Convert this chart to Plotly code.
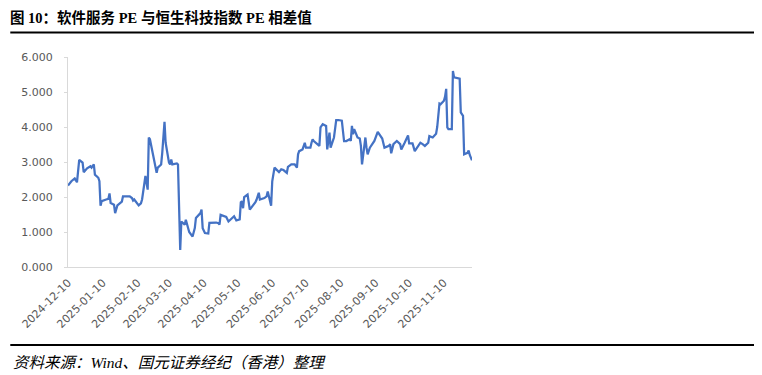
import plotly.graph_objects as go

dates = [
    "2024-12-10", "2024-12-13", "2024-12-16", "2024-12-18", "2024-12-20", "2024-12-23",
    "2024-12-24", "2024-12-27", "2024-12-30", "2024-12-31", "2025-01-02", "2025-01-03",
    "2025-01-06", "2025-01-07", "2025-01-08", "2025-01-09", "2025-01-13", "2025-01-15",
    "2025-01-16", "2025-01-17", "2025-01-20", "2025-01-21", "2025-01-23", "2025-01-27",
    "2025-01-28", "2025-02-03", "2025-02-05", "2025-02-06", "2025-02-07", "2025-02-11",
    "2025-02-13", "2025-02-14", "2025-02-17", "2025-02-18", "2025-02-19", "2025-02-20",
    "2025-02-21", "2025-02-24", "2025-02-27", "2025-02-28", "2025-03-03", "2025-03-04",
    "2025-03-06", "2025-03-07", "2025-03-10", "2025-03-11", "2025-03-12", "2025-03-13",
    "2025-03-17", "2025-03-18", "2025-03-20", "2025-03-21", "2025-03-24", "2025-03-25",
    "2025-03-27", "2025-03-28", "2025-03-31", "2025-04-02", "2025-04-03", "2025-04-07",
    "2025-04-08", "2025-04-09", "2025-04-11", "2025-04-14", "2025-04-15", "2025-04-21",
    "2025-04-23", "2025-04-24", "2025-04-25", "2025-04-28", "2025-04-30", "2025-05-02",
    "2025-05-05", "2025-05-07", "2025-05-09", "2025-05-12", "2025-05-13", "2025-05-14",
    "2025-05-15", "2025-05-16", "2025-05-19", "2025-05-21", "2025-05-26", "2025-05-27",
    "2025-05-29", "2025-05-30", "2025-06-03", "2025-06-05", "2025-06-06", "2025-06-09",
    "2025-06-10", "2025-06-12", "2025-06-16", "2025-06-18", "2025-06-20", "2025-06-23",
    "2025-06-24", "2025-06-27", "2025-06-30", "2025-07-02", "2025-07-03", "2025-07-04",
    "2025-07-07", "2025-07-09", "2025-07-10", "2025-07-14", "2025-07-15", "2025-07-16",
    "2025-07-17", "2025-07-21", "2025-07-22", "2025-07-23", "2025-07-25", "2025-07-28",
    "2025-07-29", "2025-07-31", "2025-08-01", "2025-08-04", "2025-08-06", "2025-08-08",
    "2025-08-11", "2025-08-13", "2025-08-15", "2025-08-18", "2025-08-19", "2025-08-20",
    "2025-08-21", "2025-08-22", "2025-08-25", "2025-08-27", "2025-08-28", "2025-08-29",
    "2025-09-01", "2025-09-02", "2025-09-03", "2025-09-05", "2025-09-08", "2025-09-09",
    "2025-09-12", "2025-09-15", "2025-09-16", "2025-09-18", "2025-09-22", "2025-09-23",
    "2025-09-24", "2025-09-26", "2025-09-29", "2025-10-02", "2025-10-03", "2025-10-06",
    "2025-10-08", "2025-10-09", "2025-10-10", "2025-10-13", "2025-10-15", "2025-10-17",
    "2025-10-20", "2025-10-22", "2025-10-24", "2025-10-27", "2025-10-28", "2025-10-31",
    "2025-11-03", "2025-11-04", "2025-11-06", "2025-11-07", "2025-11-10", "2025-11-11",
    "2025-11-12", "2025-11-13", "2025-11-14", "2025-11-17", "2025-11-18", "2025-11-19",
    "2025-11-21", "2025-11-24", "2025-11-25", "2025-11-27", "2025-11-28", "2025-12-01",
    "2025-12-02", "2025-12-03", "2025-12-05",
]

pe_diff = [
    2.33, 2.45, 2.53, 2.42, 3.06, 2.98,
    2.71, 2.82, 2.88, 2.84, 2.93, 2.64,
    2.55, 2.45, 1.75, 1.88, 1.93, 1.95,
    2.10, 1.83, 1.78, 1.54, 1.76, 1.87,
    2.02, 2.02, 1.97, 1.90, 1.93, 1.76,
    1.82, 1.93, 2.60, 2.45, 2.21, 3.70,
    3.65, 3.17, 2.69, 2.84, 2.93, 3.27,
    4.15, 3.55, 2.98, 2.93, 3.07, 2.93,
    2.96, 2.93, 0.49, 1.30, 1.21, 1.35,
    1.11, 1.00, 0.87, 1.11, 1.40, 1.54,
    1.64, 1.11, 0.97, 0.96, 1.26, 1.27,
    1.25, 1.21, 1.49, 1.46, 1.43, 1.30,
    1.40, 1.45, 1.33, 1.36, 1.85, 1.88,
    1.68, 2.00, 2.07, 1.64, 1.85, 1.92,
    2.12, 1.93, 1.97, 2.02, 2.16, 1.75,
    2.45, 2.84, 2.71, 2.79, 2.77, 2.69,
    2.86, 2.93, 2.93, 2.84, 3.22, 3.31,
    3.36, 3.55, 3.41, 3.41, 3.55, 3.65,
    3.60, 3.50, 3.46, 3.99, 4.08, 4.03,
    3.36, 3.84, 3.41, 3.70, 4.20, 4.20,
    4.18, 3.60, 3.60, 3.65, 3.60, 4.03,
    3.79, 3.94, 3.70, 3.67, 3.46, 2.93,
    3.70, 3.41, 3.22, 3.41, 3.55, 3.60,
    3.86, 3.70, 3.67, 3.41, 3.46, 3.51,
    3.25, 3.51, 3.60, 3.51, 3.36, 3.55,
    3.70, 3.76, 3.53, 3.53, 3.31, 3.41,
    3.55, 3.51, 3.46, 3.55, 3.74, 3.70,
    3.81, 4.00, 4.67, 4.65, 4.75, 4.87,
    5.09, 3.99, 3.94, 3.94, 5.60, 5.42,
    5.40, 5.38, 4.42, 4.32, 3.22, 3.26,
    3.33, 3.20, 3.05,
]

x_ticks = [
    "2024-12-10", "2025-01-10", "2025-02-10", "2025-03-10", "2025-04-10", "2025-05-10",
    "2025-06-10", "2025-07-10", "2025-08-10", "2025-09-10", "2025-10-10", "2025-11-10",
]
y_ticks = [0, 1, 2, 3, 4, 5, 6]

title_text = "图 10：软件服务 PE 与恒生科技指数 PE 相差值"
source_text = "资料来源：Wind、国元证券经纪（香港）整理"

fig = go.Figure()
fig.add_trace(go.Scatter(
    x=dates, y=pe_diff, mode="lines",
    line=dict(color="#4472C4", width=2.25),
    showlegend=False, hoverinfo="x+y",
))

# The page adds an 8px body margin, so the figure is sized to fit inside the window.
OFF = 8
W, H = 762 - OFF, 375 - OFF
L, R, T, B = 66 - OFF, 290, 57 - OFF, 108
pw, ph = W - L - R, H - T - B

def px(x_page):
    return (x_page - OFF - L) / pw

def py(y_page):
    return (H - B - (y_page - OFF)) / ph

tick_font = dict(family="DejaVu Sans", size=11, color="#595959")

fig.update_layout(
    width=W, height=H, autosize=False,
    margin=dict(l=L, r=R, t=T, b=B, pad=0),
    paper_bgcolor="white", plot_bgcolor="white",
    xaxis=dict(
        type="date", range=[dates[0], dates[-1]],
        tickmode="array", tickvals=x_ticks, ticktext=x_ticks,
        tickangle=-45, tickfont=tick_font,
        showgrid=False, zeroline=False,
        showline=True, linecolor="#d9d9d9", linewidth=1,
        ticks="", ticklabelstandoff=4,
    ),
    yaxis=dict(
        range=[0, 6], tickmode="array", tickvals=y_ticks,
        tickformat=".3f", tickfont=tick_font,
        showgrid=False, zeroline=False,
        showline=True, linecolor="#d9d9d9", linewidth=1,
        ticks="outside", ticklen=3, tickcolor="#d9d9d9",
        ticklabelstandoff=9,
    ),
    shapes=[
        dict(type="line", xref="paper", yref="paper",
             x0=px(OFF), x1=px(762), y0=py(32.5), y1=py(32.5),
             line=dict(color="black", width=2.2)),
        dict(type="line", xref="paper", yref="paper",
             x0=px(OFF), x1=px(762), y0=py(345), y1=py(345),
             line=dict(color="black", width=2.2)),
    ],
    annotations=[
        dict(text="<b>" + title_text + "</b>", xref="paper", yref="paper",
             x=px(6), y=py(17), xanchor="left", yanchor="middle", showarrow=False,
             font=dict(family="Liberation Serif, Noto Sans CJK SC", size=14.5, color="black")),
        dict(text="<i>" + source_text + "</i>", xref="paper", yref="paper",
             x=px(9), y=py(362), xanchor="left", yanchor="middle", showarrow=False,
             font=dict(family="Liberation Serif, Noto Sans CJK SC", size=15.5, color="black")),
    ],
)

fig.write_html("out.html")
